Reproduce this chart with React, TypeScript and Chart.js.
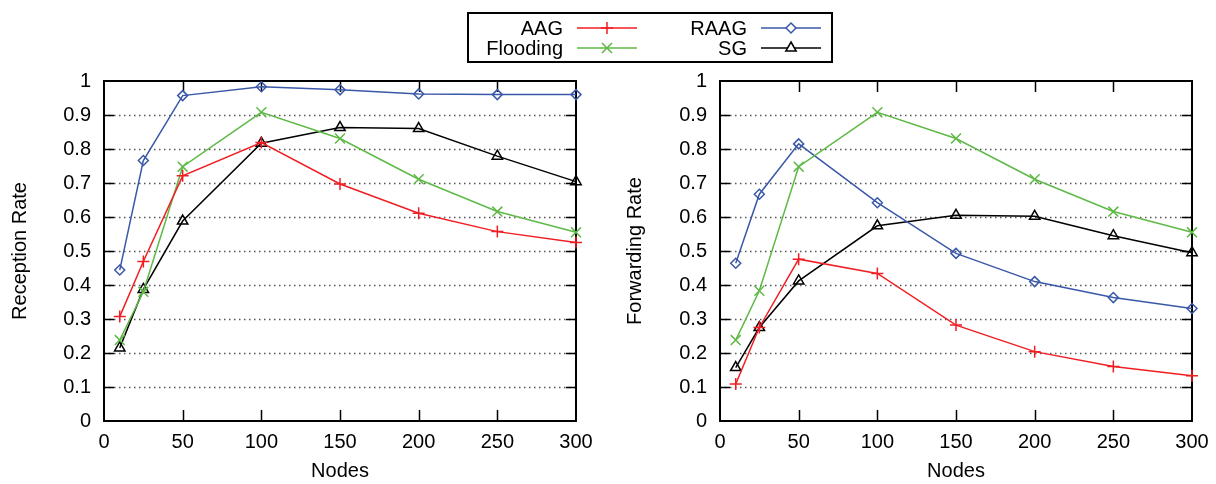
import React, { useEffect, useRef } from "react";
import { Chart, registerables } from "chart.js";

Chart.register(...registerables);

const nodes = [10, 25, 50, 100, 150, 200, 250, 300];
const xTickValues = [0, 50, 100, 150, 200, 250, 300];
const yTickValues = [0, 0.1, 0.2, 0.3, 0.4, 0.5, 0.6, 0.7, 0.8, 0.9, 1];

const recAAG = [0.307, 0.469, 0.721, 0.819, 0.697, 0.611, 0.557, 0.525];
const recFlooding = [0.238, 0.38, 0.748, 0.908, 0.831, 0.711, 0.616, 0.555];
const recRAAG = [0.444, 0.766, 0.957, 0.983, 0.974, 0.962, 0.96, 0.96];
const recSG = [0.215, 0.387, 0.588, 0.817, 0.863, 0.86, 0.779, 0.704];

const fwdAAG = [0.109, 0.275, 0.476, 0.434, 0.282, 0.204, 0.16, 0.133];
const fwdFlooding = [0.238, 0.383, 0.748, 0.908, 0.831, 0.711, 0.616, 0.555];
const fwdRAAG = [0.464, 0.667, 0.815, 0.642, 0.493, 0.41, 0.363, 0.331];
const fwdSG = [0.157, 0.275, 0.412, 0.574, 0.605, 0.602, 0.545, 0.495];

const seriesNames = ["AAG", "Flooding", "RAAG", "SG"];
const seriesColors = ["#f01e23", "#5fb946", "#3a58a8", "#000000"];
const seriesStyles = ["cross", "crossRot", "rectRot", "triangle"];
const seriesRadius = [6, 7, 5, 6];

const FONT = "'Liberation Sans', Arial, sans-serif";
const FS = 20;

const framePlugin = {
  id: "gnuframe",
  beforeDatasetsDraw(chart: any) {
    const { ctx, chartArea, scales } = chart;
    const { left, right, top, bottom } = chartArea;
    const x = scales.x;
    const y = scales.y;
    ctx.save();
    // dotted grid
    ctx.strokeStyle = "#555";
    ctx.lineWidth = 1.3;
    ctx.setLineDash([1.5, 3.5]);
    ctx.beginPath();
    for (const v of yTickValues) {
      if (v === 0 || v === 1) continue;
      const py = Math.round(y.getPixelForValue(v)) + 0.5;
      ctx.moveTo(left, py);
      ctx.lineTo(right, py);
    }
    ctx.stroke();
    ctx.setLineDash([]);
    // inner ticks
    ctx.strokeStyle = "#000";
    ctx.lineWidth = 1.5;
    ctx.beginPath();
    for (const v of yTickValues) {
      if (v === 0 || v === 1) continue;
      const py = Math.round(y.getPixelForValue(v)) + 0.5;
      ctx.moveTo(left, py);
      ctx.lineTo(left + 10, py);
      ctx.moveTo(right, py);
      ctx.lineTo(right - 10, py);
    }
    for (const v of xTickValues) {
      if (v === 0 || v === 300) continue;
      const px = Math.round(x.getPixelForValue(v)) + 0.5;
      ctx.moveTo(px, bottom);
      ctx.lineTo(px, bottom - 11);
      ctx.moveTo(px, top);
      ctx.lineTo(px, top + 11);
    }
    ctx.stroke();
    ctx.lineWidth = 2;
    ctx.strokeRect(left, top, right - left, bottom - top);
    ctx.restore();
  },
};

function makeConfig(values: number[][], yTitle: string, axisWidth: number, titlePad: number) {
  return {
    type: "line" as const,
    data: {
      datasets: values.map((vals, i) => ({
        label: seriesNames[i],
        data: nodes.map((n, k) => ({ x: n, y: vals[k] })),
        borderColor: seriesColors[i],
        backgroundColor: "transparent",
        borderWidth: 1.5,
        pointStyle: seriesStyles[i],
        pointRadius: seriesRadius[i],
        pointBorderWidth: 1.5,
        pointBorderColor: seriesColors[i],
        pointBackgroundColor: "transparent",
        tension: 0,
        clip: false,
      })),
    },
    options: {
      animation: false,
      responsive: true,
      maintainAspectRatio: false,
      layout: { padding: { top: 21, right: 24, left: 0, bottom: 0 } },
      plugins: { legend: { display: false }, tooltip: { enabled: false } },
      scales: {
        x: {
          type: "linear",
          min: 0,
          max: 300,
          afterBuildTicks: (s: any) => {
            s.ticks = xTickValues.map((v) => ({ value: v }));
          },
          afterFit: (s: any) => {
            s.height = 63;
            s.paddingLeft = 0;
            s.paddingRight = 0;
          },
          grid: { display: false, drawTicks: false },
          border: { display: false },
          ticks: { color: "#000", font: { family: FONT, size: FS }, padding: 9, maxRotation: 0, autoSkip: false },
          title: {
            display: true,
            text: "Nodes",
            color: "#000",
            font: { family: FONT, size: FS },
            padding: { top: 0, bottom: 1 },
          },
        },
        y: {
          type: "linear",
          min: 0,
          max: 1,
          afterBuildTicks: (s: any) => {
            s.ticks = yTickValues.map((v) => ({ value: v }));
          },
          afterFit: (s: any) => {
            s.width = axisWidth;
            s.paddingTop = 0;
            s.paddingBottom = 0;
          },
          grid: { display: false, drawTicks: false },
          border: { display: false },
          ticks: {
            color: "#000",
            font: { family: FONT, size: FS },
            padding: 13,
            autoSkip: false,
            callback: (v: number) => (v === 0 ? "0" : v === 1 ? "1" : v.toFixed(1)),
          },
          title: {
            display: true,
            text: yTitle,
            color: "#000",
            font: { family: FONT, size: FS },
            padding: { top: titlePad, bottom: 0 },
          },
        },
      },
    },
    plugins: [framePlugin],
  };
}

function LineChart(props: { values: number[][]; yTitle: string; axisWidth: number; titlePad: number }) {
  const ref = useRef<HTMLCanvasElement | null>(null);
  useEffect(() => {
    if (!ref.current) return;
    const chart = new Chart(ref.current, makeConfig(props.values, props.yTitle, props.axisWidth, props.titlePad) as any);
    return () => chart.destroy();
  }, []);
  return <canvas ref={ref} />;
}

function Marker(props: { kind: string; cx: number; cy: number; color: string }) {
  const { kind, cx, cy, color } = props;
  const common = { stroke: color, strokeWidth: 1.5, fill: "none" };
  if (kind === "cross")
    return <path d={`M${cx - 6} ${cy} H${cx + 6} M${cx} ${cy - 6} V${cy + 6}`} {...common} />;
  if (kind === "crossRot")
    return <path d={`M${cx - 5} ${cy - 5} L${cx + 5} ${cy + 5} M${cx - 5} ${cy + 5} L${cx + 5} ${cy - 5}`} {...common} />;
  if (kind === "rectRot")
    return <path d={`M${cx} ${cy - 5} L${cx + 5} ${cy} L${cx} ${cy + 5} L${cx - 5} ${cy} Z`} {...common} fill="#fff" />;
  return <path d={`M${cx} ${cy - 6} L${cx + 5.2} ${cy + 3} L${cx - 5.2} ${cy + 3} Z`} {...common} fill="#fff" />;
}

function Legend() {
  const entries = [
    { i: 0, textRight: 563, lineX: 577, cy: 28 },
    { i: 1, textRight: 563, lineX: 577, cy: 48 },
    { i: 2, textRight: 747, lineX: 761, cy: 28 },
    { i: 3, textRight: 747, lineX: 761, cy: 48 },
  ];
  return (
    <>
      <div
        style={{
          position: "absolute",
          left: 467,
          top: 12,
          width: 366,
          height: 51,
          border: "2px solid #000",
          boxSizing: "border-box",
        }}
      />
      {entries.map((e) => (
        <span
          key={seriesNames[e.i]}
          style={{
            position: "absolute",
            right: 1216 - e.textRight,
            top: e.cy - 12,
            height: 24,
            lineHeight: "24px",
            fontFamily: FONT,
            fontSize: FS,
            color: "#000",
            whiteSpace: "nowrap",
          }}
        >
          {seriesNames[e.i]}
        </span>
      ))}
      <svg style={{ position: "absolute", left: 0, top: 0 }} width={1216} height={70}>
        {entries.map((e) => (
          <g key={seriesNames[e.i]}>
            <line x1={e.lineX} x2={e.lineX + 60} y1={e.cy} y2={e.cy} stroke={seriesColors[e.i]} strokeWidth={1.5} />
            <Marker kind={seriesStyles[e.i]} cx={e.lineX + 30} cy={e.cy} color={seriesColors[e.i]} />
          </g>
        ))}
      </svg>
    </>
  );
}

export default function App() {
  return (
    <div
      style={{
        position: "fixed",
        left: 0,
        top: 0,
        width: 1216,
        height: 484,
        background: "#fff",
        overflow: "hidden",
      }}
    >
      <div style={{ position: "absolute", left: 0, top: 60, width: 600, height: 424 }}>
        <LineChart values={[recAAG, recFlooding, recRAAG, recSG]} yTitle="Reception Rate" axisWidth={104} titlePad={8} />
      </div>
      <div style={{ position: "absolute", left: 608, top: 60, width: 608, height: 424 }}>
        <LineChart values={[fwdAAG, fwdFlooding, fwdRAAG, fwdSG]} yTitle="Forwarding Rate" axisWidth={112} titlePad={15} />
      </div>
      <Legend />
    </div>
  );
}
